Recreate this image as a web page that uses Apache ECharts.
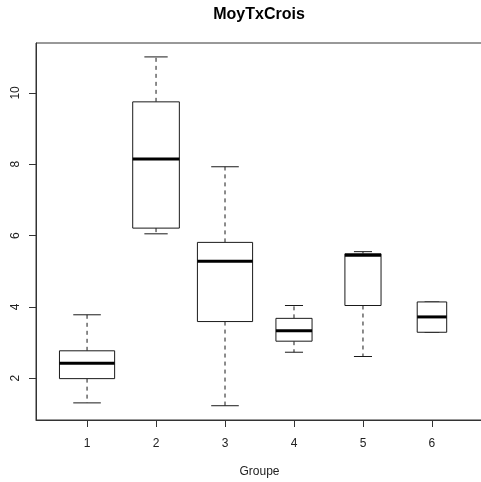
<!DOCTYPE html>
<html>
<head>
<meta charset="utf-8">
<script src="https://cdn.jsdelivr.net/npm/echarts@6/dist/echarts.min.js"></script>
<style>
  html, body { margin: 0; padding: 0; background: #fff; }
  #chart { width: 481px; height: 482px; }
</style>
</head>
<body>
<div id="chart"></div>
<script>
// ---- Data ----
const groups = ['1', '2', '3', '4', '5', '6'];
const groupSizes = [7, 5, 7, 3, 3, 2];          // used for variable box widths (sqrt(n))
const whiskerLow  = [1.31, 6.05, 1.23, 2.73, 2.61, 3.29];
const lowerHinge  = [1.99, 6.21, 3.59, 3.04, 4.04, 3.29];
const medians     = [2.42, 8.15, 5.28, 3.33, 5.45, 3.72];
const upperHinge  = [2.77, 9.75, 5.81, 3.68, 5.49, 4.14];
const whiskerHigh = [3.78, 11.01, 7.93, 4.04, 5.55, 4.14];
const yTicks = [2, 4, 6, 8, 10];
const xTicks = [1, 2, 3, 4, 5, 6];
const titleText = 'MoyTxCrois';
const xName = 'Groupe';

const maxSqrtN = Math.max(...groupSizes.map(n => Math.sqrt(n)));
const seriesData = groups.map((g, i) => [
  i + 1, whiskerLow[i], lowerHinge[i], medians[i], upperHinge[i], whiskerHigh[i],
  Math.sqrt(groupSizes[i]) / maxSqrtN
]);

const LINE = '#1a1a1a';

function renderItem(params, api) {
  const x = api.value(0);
  const lo = api.value(1), q1 = api.value(2), md = api.value(3), q3 = api.value(4), hi = api.value(5);
  const rel = api.value(6);
  const fullW = api.size([0.8 * rel, 0])[0];
  const hw = fullW / 2;
  const cw = hw / 2; // staple half width
  const pLo = api.coord([x, lo]);
  const pQ1 = api.coord([x, q1]);
  const pMd = api.coord([x, md]);
  const pQ3 = api.coord([x, q3]);
  const pHi = api.coord([x, hi]);
  const cx = pMd[0];
  const children = [];
  const dashed = { stroke: LINE, lineWidth: 1, lineDash: [4, 4], fill: null };
  const solid = { stroke: LINE, lineWidth: 1, fill: null };
  if (pHi[1] < pQ3[1] - 0.5) {
    children.push({ type: 'line', shape: { x1: cx, y1: pQ3[1], x2: cx, y2: pHi[1] }, style: dashed });
  }
  if (pLo[1] > pQ1[1] + 0.5) {
    children.push({ type: 'line', shape: { x1: cx, y1: pQ1[1], x2: cx, y2: pLo[1] }, style: dashed });
  }
  children.push({ type: 'line', shape: { x1: cx - cw, y1: pHi[1], x2: cx + cw, y2: pHi[1] }, style: solid });
  children.push({ type: 'line', shape: { x1: cx - cw, y1: pLo[1], x2: cx + cw, y2: pLo[1] }, style: solid });
  children.push({
    type: 'rect',
    shape: { x: cx - hw, y: pQ3[1], width: fullW, height: pQ1[1] - pQ3[1] },
    style: { stroke: LINE, lineWidth: 1, fill: '#fff' }
  });
  children.push({ type: 'line', shape: { x1: cx - hw, y1: pMd[1], x2: cx + hw, y2: pMd[1] }, style: { stroke: '#000', lineWidth: 3 } });
  return { type: 'group', children };
}

const chart = echarts.init(document.getElementById('chart'), null, { renderer: 'canvas' });
const FONT = 'Liberation Sans, Arial, Helvetica, sans-serif';

chart.setOption({
  animation: false,
  backgroundColor: '#fff',
  graphic: [{
    type: 'text',
    x: 259, y: 23,
    style: {
      text: titleText,
      fontFamily: FONT, fontWeight: 'bold', fontSize: 16,
      fill: '#000', align: 'center', verticalAlign: 'bottom'
    }
  }],
  grid: {
    left: 36, top: 43, right: -2, bottom: 62,
    outerBoundsMode: 'none', containLabel: false,
    show: true, borderColor: '#333', borderWidth: 1, backgroundColor: 'transparent'
  },
  xAxis: {
    type: 'value', min: 0.26, max: 6.74,
    name: xName, nameLocation: 'middle', nameGap: 46,
    nameTextStyle: { fontFamily: FONT, fontSize: 12, color: '#222' },
    splitLine: { show: false },
    axisLine: { show: true, lineStyle: { color: '#333', width: 1 } },
    axisTick: { show: true, inside: false, length: 7, customValues: xTicks, lineStyle: { color: '#333' } },
    axisLabel: { customValues: xTicks, margin: 18, fontFamily: FONT, fontSize: 12, color: '#222',
      formatter: v => String(v) }
  },
  yAxis: {
    type: 'value', min: 0.83, max: 11.40,
    splitLine: { show: false },
    axisLine: { show: true, lineStyle: { color: '#333', width: 1 } },
    axisTick: { show: true, inside: false, length: 7, customValues: yTicks, lineStyle: { color: '#333' } },
    axisLabel: { customValues: yTicks, margin: 14, rotate: 90, fontFamily: FONT, fontSize: 12, color: '#222',
      formatter: v => String(v) }
  },
  series: [{
    type: 'custom',
    renderItem: renderItem,
    encode: { x: 0, y: [1, 2, 3, 4, 5] },
    data: seriesData,
    clip: false
  }]
});
</script>
</body>
</html>
